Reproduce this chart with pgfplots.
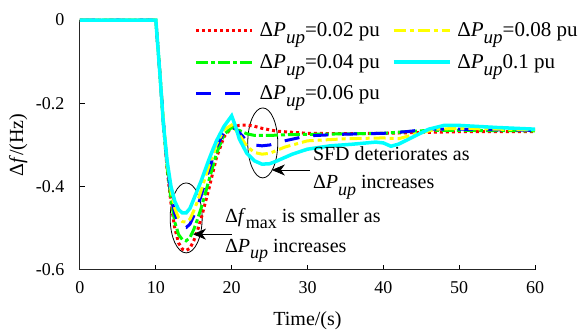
\documentclass[border=0pt]{standalone}
\usepackage{fontspec}
\setmainfont{Liberation Serif}
\usepackage{pgfplots}
\pgfplotsset{compat=1.18}
\usetikzlibrary{arrows.meta}
\definecolor{cRed}{RGB}{255,0,0}
\definecolor{cGreen}{RGB}{0,255,0}
\definecolor{cBlue}{RGB}{0,0,255}
\definecolor{cYellow}{RGB}{255,255,0}
\definecolor{cCyan}{RGB}{0,255,255}
\newcommand{\dP}{Δ\textit{P}\raisebox{-0.7ex}{\fontsize{18}{18}\selectfont\textit{up}}}
\newcommand{\dPl}{Δ\textit{P}\raisebox{-0.7ex}{\fontsize{19}{19}\selectfont\textit{up}}}
\begin{document}
\begin{tikzpicture}
\path[use as bounding box] (-80pt,-61pt) rectangle (504pt,270pt);
\begin{axis}[
  at={(0pt,0pt)}, anchor=south west,
  scale only axis, width=455pt, height=250pt,
  xmin=0, xmax=60, ymin=-0.6, ymax=0,
  axis lines=left, axis line style={-, line width=1pt, black!85},
  clip=false,
  xtick={0,10,...,60},
  ytick={-0.6,-0.4,-0.2,0}, yticklabels={-0.6,-0.4,-0.2,0},
  tick align=inside, major tick length=5pt,
  tick style={black, line width=1pt},
  /pgf/number format/assume math mode=true,
  ticklabel style={font=\fontsize{18}{20}\selectfont},
  yticklabel style={xshift=-12pt},
  xticklabel style={yshift=-8pt},
  xlabel={Time/(s)}, ylabel={Δ\textit{f}/(Hz)},
  label style={font=\fontsize{20}{24}\selectfont},
  xlabel style={at={(axis description cs:0.5,0)}, anchor=base, yshift=-56pt},
  ylabel style={at={(axis description cs:-0.136,0.5)}, anchor=center},
  legend columns=2,
  legend image code/.code={\draw[#1] (0pt,0pt) -- (56pt,0pt);},
  legend style={draw=none, fill=none, at={(0.245,1.005)}, anchor=north west,
    font=\fontsize{21}{25}\selectfont, row sep=12pt,
    /tikz/every odd column/.append style={column sep=4pt},
    /tikz/every even column/.append style={column sep=10pt}},
  legend cell align=left,
]
% annotation ellipses (beneath curves)
\draw[black, line width=0.8pt] (axis cs:14.0,-0.475) ellipse [x radius=16pt, y radius=35pt];
\draw[black, line width=0.8pt] (axis cs:24.1,-0.295) ellipse [x radius=15pt, y radius=35pt];

\addplot[forget plot, cRed, line width=3pt, dash pattern=on 3pt off 3pt] coordinates {
(0,0) (10,0) (10.5,-0.12) (11,-0.25) (11.5,-0.36) (12,-0.44) (12.5,-0.50) (13,-0.535)
(13.5,-0.55) (14,-0.553) (14.5,-0.548) (15,-0.53) (15.5,-0.505) (16,-0.475) (17,-0.405)
(18,-0.33) (19,-0.28) (20,-0.258) (20.5,-0.255) (21,-0.253) (22,-0.252) (23,-0.255)
(24,-0.26) (26,-0.267) (30,-0.272) (35,-0.273) (40,-0.272) (45,-0.27) (50,-0.268) (60,-0.268)};
\addplot[forget plot, cGreen, line width=3pt, dash pattern=on 12pt off 3pt on 4pt off 3pt] coordinates {
(0,0) (10,0) (10.5,-0.12) (11,-0.25) (11.5,-0.355) (12,-0.43) (12.5,-0.485) (13,-0.515)
(13.5,-0.527) (14,-0.53) (14.5,-0.522) (15,-0.503) (15.5,-0.478) (16,-0.45) (17,-0.385)
(18,-0.32) (19,-0.275) (20,-0.258) (21,-0.265) (22,-0.273) (23,-0.277) (25,-0.277)
(28,-0.275) (32,-0.274) (36,-0.273) (40,-0.272) (43,-0.268) (46,-0.265) (50,-0.265) (60,-0.266)};
\addplot[forget plot, cBlue, line width=3pt, dash pattern=on 15pt off 14pt] coordinates {
(0,0) (10,0) (10.5,-0.12) (11,-0.245) (11.5,-0.35) (12,-0.42) (12.5,-0.465) (13,-0.488)
(13.5,-0.497) (14,-0.498) (14.5,-0.49) (15,-0.47) (15.5,-0.448) (16,-0.42) (17,-0.36)
(18,-0.305) (19,-0.268) (20,-0.255) (21,-0.27) (22,-0.29) (23,-0.30) (24,-0.302)
(25,-0.300) (27,-0.290) (30,-0.278) (35,-0.274) (40,-0.272) (43,-0.268) (46,-0.262) (50,-0.262) (60,-0.265)};
\addplot[forget plot, cYellow, line width=3pt, dash pattern=on 12pt off 4pt on 4pt off 4pt] coordinates {
(0,0) (10,0) (10.5,-0.12) (11,-0.24) (11.5,-0.345) (12,-0.41) (12.5,-0.452) (13,-0.475)
(13.5,-0.484) (14,-0.485) (14.5,-0.478) (15,-0.458) (15.5,-0.435) (16,-0.408) (17,-0.35)
(18,-0.298) (19,-0.263) (20,-0.252) (21,-0.275) (22,-0.303) (23,-0.318) (24,-0.322)
(25,-0.32) (27,-0.305) (30,-0.29) (35,-0.285) (40,-0.283) (42,-0.285) (44,-0.275)
(47,-0.262) (50,-0.26) (60,-0.264)};
\addplot[forget plot, cCyan, line width=3.5pt] coordinates {
(0,0) (10,0) (10.5,-0.12) (11,-0.25) (11.5,-0.34) (12,-0.40) (12.5,-0.435) (13,-0.455)
(13.5,-0.463) (14,-0.463) (14.5,-0.452) (15,-0.43) (16,-0.385) (17,-0.335) (17.5,-0.312)
(18,-0.29) (19,-0.255) (20,-0.23) (20.5,-0.255) (21,-0.285) (22,-0.32) (23,-0.338)
(24,-0.346) (25,-0.345) (26,-0.338) (28,-0.322) (30,-0.31) (33,-0.302) (36,-0.298)
(39,-0.293) (40,-0.295) (41,-0.303) (42,-0.298) (44,-0.28) (46,-0.262) (48,-0.253)
(50,-0.253) (55,-0.258) (60,-0.262)};

\addlegendimage{cRed, line width=3pt, dash pattern=on 3pt off 3pt}
\addlegendentry{\dPl=0.02 pu}
\addlegendimage{cYellow, line width=3pt, dash pattern=on 12pt off 4pt on 4pt off 4pt}
\addlegendentry{\dPl=0.08 pu}
\addlegendimage{cGreen, line width=3pt, dash pattern=on 12pt off 3pt on 4pt off 3pt}
\addlegendentry{\dPl=0.04 pu}
\addlegendimage{cCyan, line width=3.5pt}
\addlegendentry{\dPl0.1 pu}
\addlegendimage{cBlue, line width=3pt, dash pattern=on 15pt off 14pt}
\addlegendentry{\dPl=0.06 pu}

% arrows and text
\draw[-{Stealth[length=13pt,width=11pt,inset=4pt]}, line width=0.8pt] (axis cs:20,-0.514) -- (axis cs:14.9,-0.514);
\draw[-{Stealth[length=13pt,width=11pt,inset=4pt]}, line width=0.8pt] (axis cs:30.3,-0.36) -- (axis cs:25.3,-0.36);
\node[anchor=base west, inner sep=0pt, font=\fontsize{20}{24}\selectfont] at (axis cs:19.1,-0.485)
  {Δ\textit{f}\raisebox{-0.7ex}{\fontsize{18}{18}\selectfont max} is smaller as};
\node[anchor=base west, inner sep=0pt, font=\fontsize{20}{24}\selectfont] at (axis cs:19.1,-0.557)
  {\dP{} increases};
\node[anchor=base west, inner sep=0pt, font=\fontsize{20}{24}\selectfont] at (axis cs:30.7,-0.338)
  {SFD deteriorates as};
\node[anchor=base west, inner sep=0pt, font=\fontsize{20}{24}\selectfont] at (axis cs:30.7,-0.405)
  {\dP{} increases};
\end{axis}
\end{tikzpicture}
\end{document}
